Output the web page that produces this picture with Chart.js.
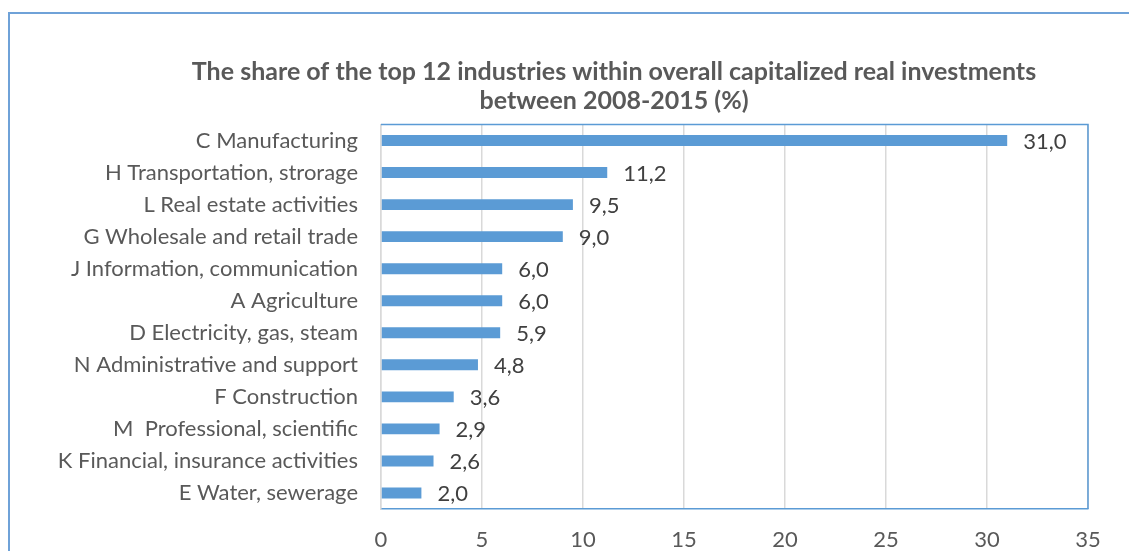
<!DOCTYPE html>
<html>
<head>
<meta charset="utf-8">
<script src="https://cdn.jsdelivr.net/npm/chart.js@4/dist/chart.umd.min.js"></script>
<style>
  html, body { margin: 0; padding: 0; background: #ffffff; overflow: hidden; width: 1129px; height: 551px; }
  #frame { position: absolute; left: 8px; top: 12px; border: 2px solid #6fa2d8; width: 1210px; height: 600px; }
  canvas { display: block; }
</style>
</head>
<body>
<div id="frame"><canvas id="chart" width="1210" height="600"></canvas></div>
<script>
// Industries, largest share first
const categories = [
  'C Manufacturing',
  'H Transportation, strorage',
  'L Real estate activities',
  'G Wholesale and retail trade',
  'J Information, communication',
  'A Agriculture',
  'D Electricity, gas, steam',
  'N Administrative and support',
  'F Construction',
  'M  Professional, scientific',
  'K Financial, insurance activities',
  'E Water, sewerage'
];
// Share of overall capitalized real investments, %
const shares = [31.0, 11.2, 9.5, 9.0, 6.0, 6.0, 5.9, 4.8, 3.6, 2.9, 2.6, 2.0];
// Value axis ticks
const axisMin = 0;
const axisMax = 35;
const axisStep = 5;

const titleLines = [
  'The share of the top 12 industries within overall capitalized real investments',
  'between 2008-2015 (%)'
];

const FONT = 'Lato, "Open Sans", sans-serif';
const BAR_BLUE = '#5b9bd5';

// Value labels to the right of each bar, with a decimal comma
const valueLabels = {
  id: 'valueLabels',
  afterDatasetsDraw(chart) {
    const ctx = chart.ctx;
    const meta = chart.getDatasetMeta(0);
    ctx.save();
    ctx.font = '22px ' + FONT;
    ctx.fillStyle = '#404040';
    ctx.textAlign = 'left';
    ctx.textBaseline = 'middle';
    meta.data.forEach((bar, i) => {
      const v = chart.data.datasets[0].data[i];
      ctx.fillText(v.toFixed(1).replace('.', ','), bar.x + 16, bar.y + 1);
    });
    ctx.restore();
  }
};

// Top and right edges of the plot frame
const plotFrame = {
  id: 'plotFrame',
  afterDraw(chart) {
    const a = chart.chartArea;
    const ctx = chart.ctx;
    ctx.save();
    ctx.strokeStyle = BAR_BLUE;
    ctx.lineWidth = 1.5;
    ctx.beginPath();
    ctx.moveTo(a.left, a.top);
    ctx.lineTo(a.right, a.top);
    ctx.lineTo(a.right, a.bottom);
    ctx.stroke();
    ctx.restore();
  }
};

new Chart(document.getElementById('chart'), {
  type: 'bar',
  data: {
    labels: categories,
    datasets: [{
      data: shares,
      backgroundColor: BAR_BLUE,
      borderWidth: 0,
      categoryPercentage: 1,
      barPercentage: 0.34
    }]
  },
  options: {
    indexAxis: 'y',
    responsive: false,
    animation: false,
    devicePixelRatio: 1,
    layout: { padding: { left: 0, right: 2, top: 0, bottom: 45 } },
    plugins: {
      legend: { display: false },
      tooltip: { enabled: false },
      title: {
        display: true,
        text: titleLines,
        color: '#595959',
        font: { family: FONT, size: 25, weight: 'bold', lineHeight: 1.16 },
        padding: { top: 43.5, bottom: 9 }
      }
    },
    scales: {
      x: {
        type: 'linear',
        min: axisMin,
        max: axisMax,
        ticks: {
          stepSize: axisStep,
          color: '#595959',
          font: { family: FONT, size: 22 },
          padding: 18
        },
        grid: { color: '#d9d9d9', lineWidth: 1.5, drawTicks: false },
        border: { display: true, color: BAR_BLUE, width: 1.5 },
        afterFit(scale) { scale.height = 60; }
      },
      y: {
        ticks: {
          color: '#595959',
          font: { family: FONT, size: 22 },
          padding: 23,
          autoSkip: false
        },
        grid: { display: false, drawTicks: false },
        border: { display: true, color: '#d9d9d9', width: 1.5 },
        afterFit(scale) { scale.width = 371; }
      },
      // empty right-hand margin of the chart object
      margin: {
        type: 'linear',
        axis: 'y',
        position: 'right',
        ticks: { display: false },
        grid: { display: false, drawTicks: false },
        border: { display: false },
        afterFit(scale) { scale.width = 130; }
      }
    }
  },
  plugins: [valueLabels, plotFrame]
});
</script>
</body>
</html>
